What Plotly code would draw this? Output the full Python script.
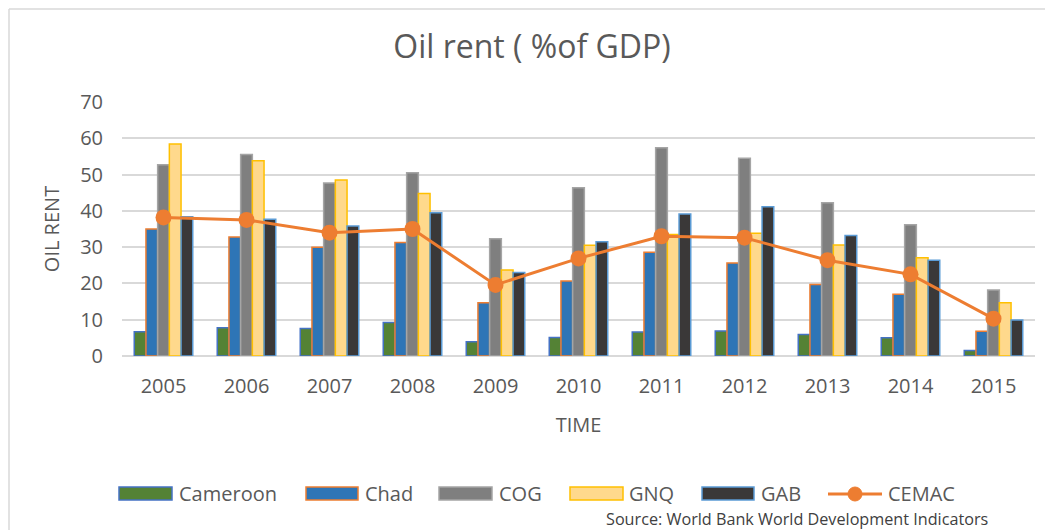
import plotly.graph_objects as go

years = ["2005", "2006", "2007", "2008", "2009", "2010", "2011", "2012", "2013", "2014", "2015"]
cameroon = [6.7, 7.8, 7.6, 9.2, 3.9, 5.1, 6.6, 6.9, 5.9, 5.0, 1.5]
chad = [35.0, 32.8, 30.0, 31.3, 14.7, 20.7, 28.6, 25.6, 19.7, 17.0, 6.8]
cog = [52.7, 55.5, 47.7, 50.5, 32.3, 46.4, 57.4, 54.5, 42.2, 36.2, 18.2]
gnq = [58.4, 53.8, 48.5, 44.8, 23.7, 30.5, 33.5, 33.8, 30.6, 27.1, 14.7]
gab = [38.4, 37.7, 35.8, 39.5, 23.0, 31.5, 39.1, 41.1, 33.2, 26.4, 9.9]
cemac = [38.2, 37.5, 34.0, 35.0, 19.6, 26.9, 33.0, 32.6, 26.4, 22.5, 10.3]

FONT = "Open Sans"
GREY = "#595959"
LINE_COLOR = "#ED7D31"

bar_specs = [
    ("Cameroon", cameroon, "#548235", "#4472C4"),
    ("Chad", chad, "#2E75B6", "#ED7D31"),
    ("COG", cog, "#7F7F7F", "#A5A5A5"),
    ("GNQ", gnq, "#FFD98C", "#FFC000"),
    ("GAB", gab, "#3A3838", "#5B9BD5"),
]

fig = go.Figure()
for name, vals, fill, edge in bar_specs:
    fig.add_trace(go.Bar(x=years, y=vals, name=name, showlegend=False,
                         marker=dict(color=fill, line=dict(color=edge, width=1.5))))

fig.add_trace(go.Scatter(x=years, y=cemac, name="CEMAC", mode="lines+markers", showlegend=False,
                         line=dict(color=LINE_COLOR, width=3),
                         marker=dict(color=LINE_COLOR, size=16)))

# page offset of the plot div (body margin)
OFF = 8
W, H = 1045, 522
L, R, T, B = 114, 18, 94, 174
pw, ph = W - L - R, H - T - B


def px(x):
    return (x - OFF - L) / pw


def py(y):
    return (H - B - (y - OFF)) / ph


shapes = [
    dict(type="line", xref="paper", yref="paper", x0=px(OFF + 1), x1=px(OFF + 1), y0=py(OFF + 1), y1=py(540),
         line=dict(color="#D9D9D9", width=1.5)),
    dict(type="line", xref="paper", yref="paper", x0=px(OFF + 1), x1=px(1060), y0=py(OFF + 1), y1=py(OFF + 1),
         line=dict(color="#D9D9D9", width=1.5)),
]
annotations = []

# manual legend (Excel style wide swatches)
leg_y0, leg_y1, leg_yc = 487, 500, 493
leg_x = [(119, 172, 177), (306, 358, 363), (439, 492, 497), (570, 623, 627), (702, 754, 759)]
for (name, vals, fill, edge), (x0, x1, xt) in zip(bar_specs, leg_x):
    shapes.append(dict(type="rect", xref="paper", yref="paper",
                       x0=px(x0), x1=px(x1), y0=py(leg_y1), y1=py(leg_y0),
                       fillcolor=fill, line=dict(color=edge, width=1.5)))
    annotations.append(dict(text=name, xref="paper", yref="paper", x=px(xt), y=py(leg_yc),
                            xanchor="left", yanchor="middle", showarrow=False,
                            font=dict(family=FONT, size=20, color=GREY)))
# CEMAC line swatch
shapes.append(dict(type="line", xref="paper", yref="paper", x0=px(828), x1=px(882),
                   y0=py(leg_yc + 1), y1=py(leg_yc + 1), line=dict(color=LINE_COLOR, width=3)))
shapes.append(dict(type="circle", xref="paper", yref="paper", x0=px(848), x1=px(862),
                   y0=py(leg_yc + 8), y1=py(leg_yc - 6), fillcolor=LINE_COLOR,
                   line=dict(color=LINE_COLOR, width=1)))
annotations.append(dict(text="CEMAC", xref="paper", yref="paper", x=px(886), y=py(leg_yc),
                        xanchor="left", yanchor="middle", showarrow=False,
                        font=dict(family=FONT, size=20, color=GREY)))

annotations.append(dict(text="Source: World Bank World Development Indicators", xref="paper", yref="paper",
                        x=px(990), y=py(519), xanchor="right", yanchor="middle", showarrow=False,
                        font=dict(family=FONT, size=16.2, color="#404040")))

fig.update_layout(
    width=W, height=H,
    margin=dict(l=L, r=R, t=T, b=B),
    paper_bgcolor="white", plot_bgcolor="white",
    font=dict(family=FONT, color=GREY, size=20),
    barmode="group", bargap=0.295, bargroupgap=0,
    showlegend=False,
    title=dict(text="Oil rent ( %of GDP)", x=px(532), xanchor="center", xref="paper",
               y=1 - (47 - OFF) / H, yanchor="middle", yref="container",
               font=dict(family=FONT, size=32, color=GREY)),
    xaxis=dict(range=[-0.5, len(years) - 0.5], showgrid=False, showline=False, ticks="",
               tickfont=dict(size=20, color=GREY), ticklabelstandoff=16,
               title=dict(text="TIME", font=dict(size=20, color=GREY), standoff=19)),
    yaxis=dict(range=[0, 70], dtick=10, showgrid=True, gridcolor="#D9D9D9", gridwidth=1.5,
               zeroline=True, zerolinecolor="#D9D9D9", zerolinewidth=1.5,
               showline=False, ticks="", tickfont=dict(size=20, color=GREY), ticklabelstandoff=18,
               title=dict(text="OIL RENT", font=dict(size=20, color=GREY), standoff=15)),
    shapes=shapes,
    annotations=annotations,
)

fig.write_html("out.html")
